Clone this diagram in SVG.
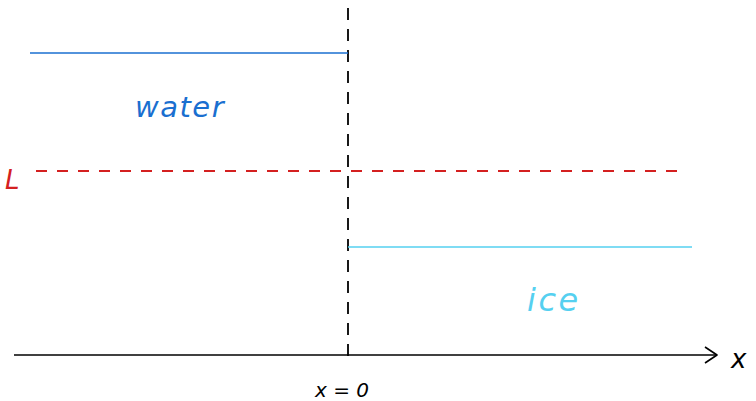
<svg xmlns="http://www.w3.org/2000/svg" width="756" height="401" viewBox="0 0 756 401">
<style>
.hand{font-family:"Comic Sans MS","DejaVu Sans",sans-serif;font-style:italic}
</style>
<rect width="756" height="401" fill="#ffffff"/>
<g id="connectors" fill="none" stroke-linecap="butt">
  <line id="axis" x1="14" y1="355" x2="717" y2="355" stroke="#000" stroke-width="1.6"/>
  <polyline points="705,347 717,355 705,363" stroke="#000" stroke-width="1.6" stroke-linejoin="round"/>
  <line id="x0" x1="348" y1="8" x2="348" y2="362" stroke="#000" stroke-width="1.8" stroke-dasharray="12,9"/>
  <line id="level" x1="36" y1="171" x2="683" y2="171" stroke="#d42020" stroke-width="1.8" stroke-dasharray="11,10"/>
  <line id="water-line" x1="30" y1="53" x2="348" y2="53" stroke="#1a6fd0" stroke-width="1.6"/>
  <line id="ice-line" x1="348" y1="247" x2="692" y2="247" stroke="#55d0f0" stroke-width="1.6"/>
</g>
<g id="water"><text class="hand" x="135" y="117" font-size="29" letter-spacing="1.5" fill="#1a6fd0">water</text></g>
<g id="ice"><text class="hand" x="527" y="311" font-size="32" letter-spacing="2.5" fill="#55d0f0">ice</text></g>
<g id="L"><text class="hand" x="5" y="189" font-size="26" fill="#d42020">L</text></g>
<g id="xlabel"><text class="hand" x="731" y="368" font-size="26" fill="#000">x</text></g>
<g id="x0label"><text class="hand" x="315" y="397" font-size="20" fill="#000">x = 0</text></g>
</svg>
